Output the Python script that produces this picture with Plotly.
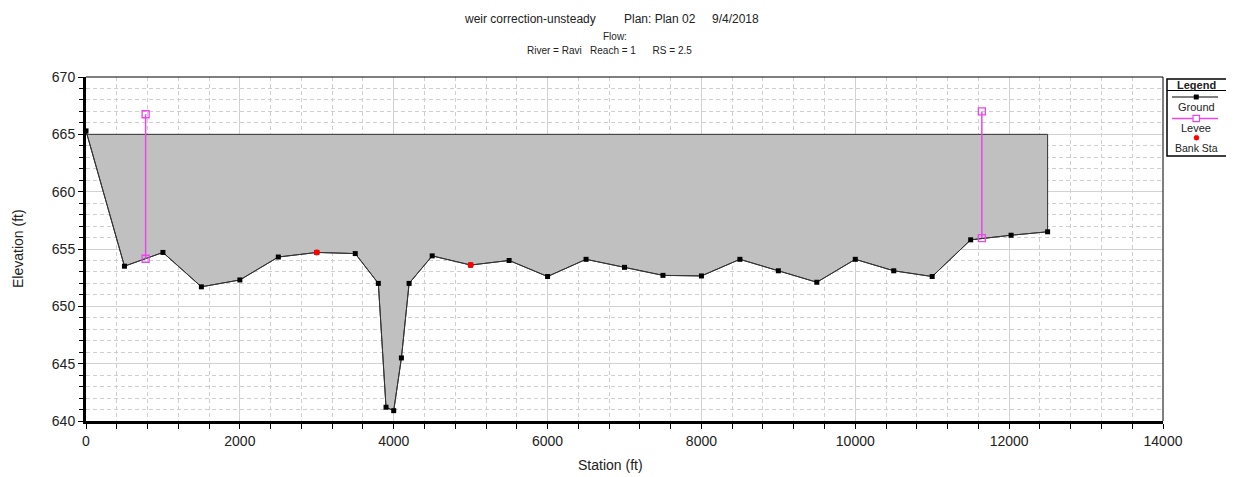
import plotly.graph_objects as go

# ---------------- data ----------------
ground_x = [0, 500, 1000, 1500, 2000, 2500, 3000, 3500, 3800, 3900, 4000, 4100, 4200,
            4500, 5000, 5500, 6000, 6500, 7000, 7500, 8000, 8500, 9000, 9500, 10000,
            10500, 11000, 11500, 12025, 12500]
ground_y = [665.3, 653.5, 654.7, 651.7, 652.3, 654.3, 654.7, 654.6, 652.0, 641.2, 640.9,
            645.5, 652.0, 654.4, 653.6, 654.0, 652.6, 654.1, 653.4, 652.7, 652.65, 654.1,
            653.1, 652.1, 654.1, 653.1, 652.6, 655.8, 656.2, 656.5]
fill_top = 665.0

levee_left_x = [775, 775]
levee_left_y = [654.15, 666.75]
levee_right_x = [11645, 11645]
levee_right_y = [655.95, 667.0]

bank_x = [3000, 5000]
bank_y = [654.7, 653.6]

x_range = [0, 14000]
y_range = [640, 670]

title_main = ["weir correction-unsteady", "Plan: Plan 02", "9/4/2018"]
title_flow = "Flow:"
title_loc = "River = Ravi\u00a0\u00a0 Reach = 1\u00a0\u00a0\u00a0\u00a0\u00a0 RS = 2.5"

# ---------------- geometry helpers (pixel -> paper) ----------------
W, H = 1234, 477
OFF = 8  # page body margin offset
L, R, T, B = 86, 1163, 77, 421


def px(x):
    return (x - L) / (R - L)


def py(y):
    return (B - y) / (B - T)


FONT = "Liberation Sans, Arial, sans-serif"
MAGENTA = "#EE44EE"

fig = go.Figure()

# gray fill between ground and top elevation
fig.add_trace(go.Scatter(
    x=ground_x + [ground_x[-1], ground_x[0]],
    y=ground_y + [fill_top, fill_top],
    fill="toself", fillcolor="#C0C0C0", mode="lines",
    line=dict(color="#303030", width=1), hoverinfo="skip", showlegend=False))

# ground
fig.add_trace(go.Scatter(
    x=ground_x, y=ground_y, mode="lines+markers", name="Ground",
    line=dict(color="#333333", width=1),
    marker=dict(symbol="square", size=5, color="black"), showlegend=False))

# levees
for lx, ly in [(levee_left_x, levee_left_y), (levee_right_x, levee_right_y)]:
    fig.add_trace(go.Scatter(
        x=lx, y=ly, mode="lines+markers", name="Levee",
        line=dict(color=MAGENTA, width=1.5),
        marker=dict(symbol="square-open", size=7, color=MAGENTA, line=dict(width=1.3)),
        showlegend=False))

# bank stations
fig.add_trace(go.Scatter(
    x=bank_x, y=bank_y, mode="markers", name="Bank Sta",
    marker=dict(symbol="circle", size=6, color="red"), showlegend=False))

axis_common = dict(
    showline=True, linecolor="black", linewidth=3,
    ticks="outside", ticklen=5, tickcolor="black", tickwidth=1,
    tickfont=dict(family=FONT, size=14, color="#222222"),
    gridcolor="#D2D2D2", gridwidth=1, zeroline=False, tickformat="d",
)

fig.update_xaxes(
    range=x_range, dtick=2000, tick0=0, **axis_common,
    minor=dict(dtick=400, ticks="outside", ticklen=5, tickcolor="black",
               showgrid=True, gridcolor="#CFCFCF", griddash="4px,3px"),
)
fig.update_yaxes(
    range=y_range, dtick=5, tick0=640, **axis_common,
    minor=dict(dtick=1, ticks="outside", ticklen=4, tickcolor="black",
               showgrid=True, gridcolor="#CFCFCF", griddash="4px,3px"),
)

shapes = []
# thin top and right frame
shapes.append(dict(type="line", xref="paper", yref="paper", x0=0, x1=1, y0=1, y1=1,
                   line=dict(color="black", width=1)))
shapes.append(dict(type="line", xref="paper", yref="paper", x0=1, x1=1, y0=0, y1=1,
                   line=dict(color="black", width=1)))

# legend box
shapes.append(dict(type="rect", xref="paper", yref="paper",
                   x0=px(1167), x1=px(1227), y0=py(156), y1=py(79),
                   line=dict(color="black", width=1.5), fillcolor="white"))
shapes.append(dict(type="line", xref="paper", yref="paper",
                   x0=px(1167), x1=px(1227), y0=py(90.5), y1=py(90.5),
                   line=dict(color="black", width=1)))
# ground legend sample
shapes.append(dict(type="line", xref="paper", yref="paper",
                   x0=px(1172), x1=px(1218), y0=py(97), y1=py(97),
                   line=dict(color="black", width=1)))
shapes.append(dict(type="rect", xref="paper", yref="paper",
                   x0=px(1194), x1=px(1198.5), y0=py(99.2), y1=py(94.8),
                   line=dict(color="black", width=0.5), fillcolor="black"))
# levee legend sample
shapes.append(dict(type="line", xref="paper", yref="paper",
                   x0=px(1172), x1=px(1218), y0=py(118.5), y1=py(118.5),
                   line=dict(color=MAGENTA, width=1.5)))
shapes.append(dict(type="rect", xref="paper", yref="paper",
                   x0=px(1193), x1=px(1199.5), y0=py(121.7), y1=py(115.3),
                   line=dict(color=MAGENTA, width=1.2), fillcolor="white"))
# bank sta sample
shapes.append(dict(type="circle", xref="paper", yref="paper",
                   x0=px(1194), x1=px(1199), y0=py(140.2), y1=py(135.2),
                   line=dict(color="red", width=0.5), fillcolor="red"))

annotations = []


def txt(text, x, y, size, bold=False, color="#222222", angle=0):
    annotations.append(dict(
        text=f"<b>{text}</b>" if bold else text, x=px(x), y=py(y),
        xref="paper", yref="paper", showarrow=False, xanchor="center", yanchor="middle",
        textangle=angle, font=dict(family=FONT, size=size, color=color)))


# legend texts
txt("Legend", 1197, 84.5, 11, bold=True)
txt("Ground", 1196, 107, 11)
txt("Levee", 1196, 128, 11)
txt("Bank Sta", 1196, 148, 10.5)

# titles
txt(title_main[0], 530, 19, 12)
txt(title_main[1], 660, 19, 12)
txt(title_main[2], 735, 19, 12)
txt(title_flow, 615, 36, 10)
txt(title_loc, 609, 50, 10)

# axis titles
txt("Station (ft)", 610, 465, 14)
txt("Elevation (ft)", 18, 249, 14, angle=-90)

fig.update_layout(
    width=W, height=H,
    margin=dict(l=L - OFF, r=W - (R - OFF), t=T - OFF, b=H - (B - OFF)),
    plot_bgcolor="white", paper_bgcolor="white",
    showlegend=False, shapes=shapes, annotations=annotations,
    font=dict(family=FONT),
)

fig.write_html("out.html")
